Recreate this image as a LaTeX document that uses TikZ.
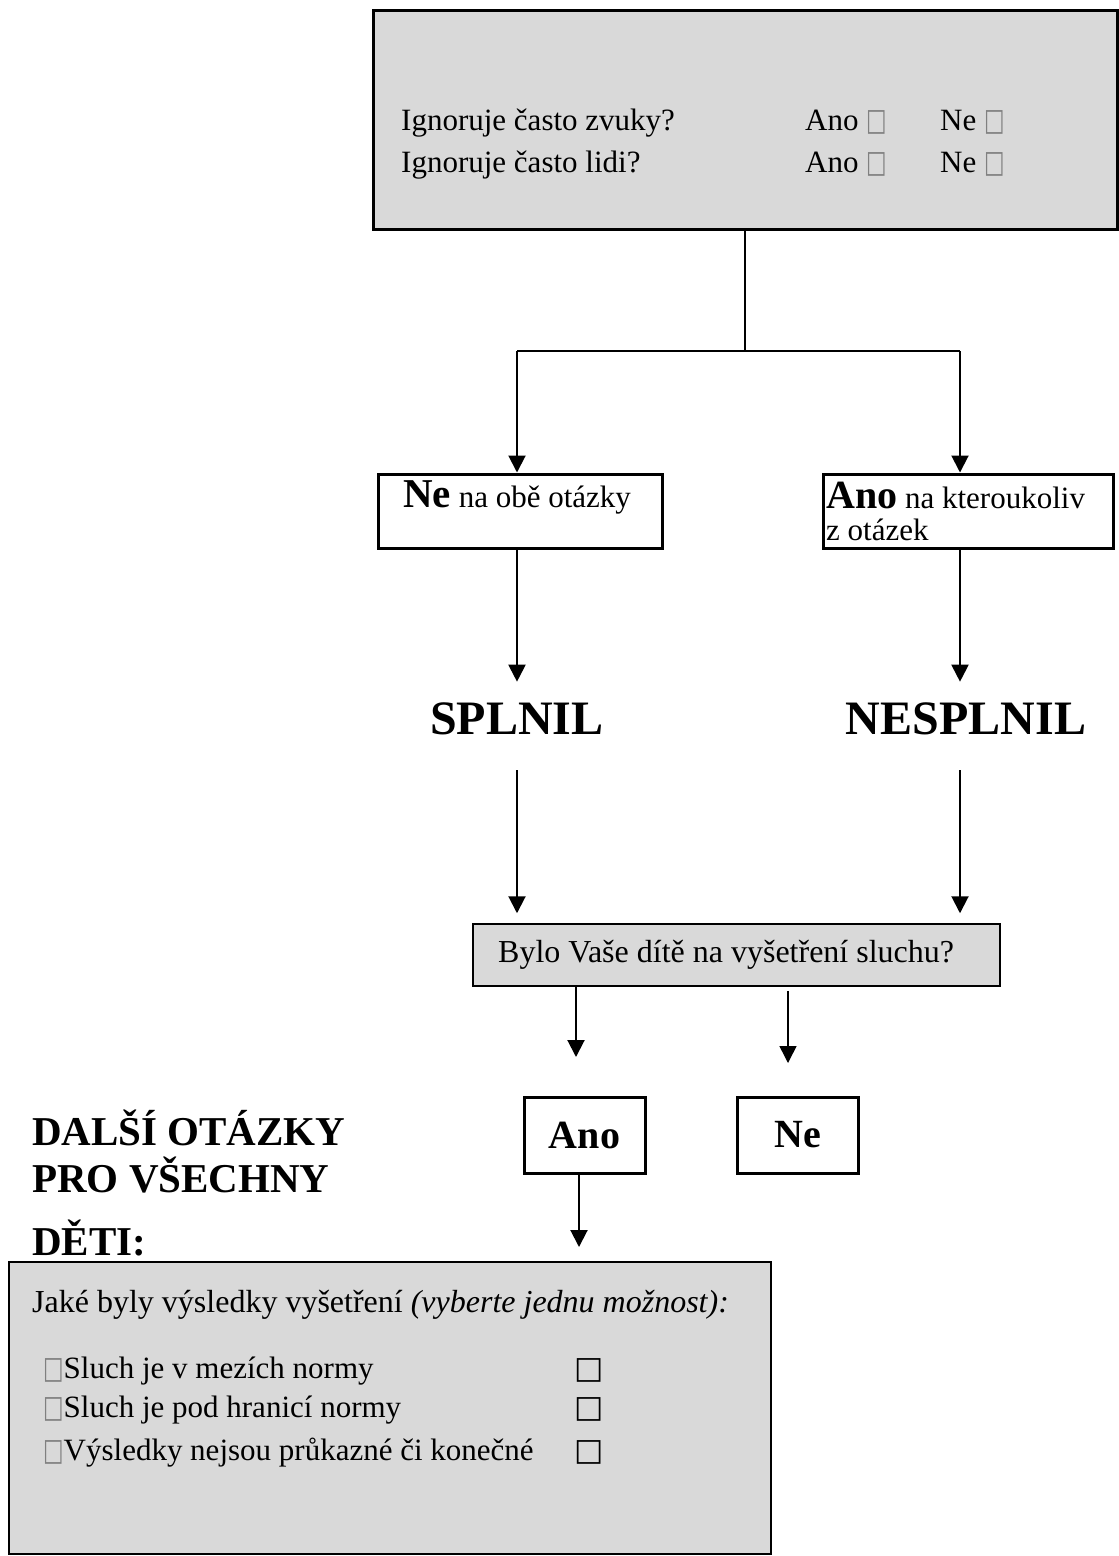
\documentclass[tikz,border=0pt]{standalone}
\usepackage{fontspec}
\setmainfont{Liberation Serif}
\newfontfamily\symfont{DejaVu Sans}
\usetikzlibrary{arrows.meta}
\definecolor{boxgrey}{HTML}{D9D9D9}
\newcommand{\qfont}{\fontsize{31}{36}\selectfont}
\newcommand{\tickbox}{{\symfont\color{gray}\scalebox{0.7}[1]{□}}}
\newcommand{\blackbox}{{\symfont □}}

\begin{document}
\begin{tikzpicture}
[x=1pt, y=-1pt,
  boxDecorate/.style={draw, line width=3pt, inner sep=0pt},
  greyDecorate/.style={boxDecorate, fill=boxgrey},
  lineDecorate/.style={-, line width=2pt},
  arrowDecorate/.style={lineDecorate, -{Triangle[length=17pt,width=17pt]}},
  textDecorate/.style={anchor=base west, inner sep=0pt},
  bigDecorate/.style={inner sep=0pt, font=\fontsize{48}{52}\selectfont\bfseries}]
\useasboundingbox (0,0) rectangle (1119,1556);
%% boxes
\node (quest) at (745,119.5) [greyDecorate, minimum width=744pt, minimum height=219pt] {};
\node (neBox) at (520,511) [boxDecorate, minimum width=284pt, minimum height=74pt] {};
\node (anoBox) at (968,511) [boxDecorate, minimum width=290pt, minimum height=74pt] {};
\node (qBox) at (736.5,955) [greyDecorate, line width=1.5pt, minimum width=527pt, minimum height=62pt] {};
\node (yesBox) at (584.5,1135) [boxDecorate, minimum width=121pt, minimum height=76pt,
  font=\fontsize{40}{44}\selectfont\bfseries] {Ano};
\node (noBox) at (797.5,1135) [boxDecorate, minimum width=121pt, minimum height=76pt,
  font=\fontsize{40}{44}\selectfont\bfseries] {Ne};
\node (resBox) at (390,1408) [greyDecorate, line width=2pt, minimum width=762pt, minimum height=292pt] {};
%% texts
\foreach \i/\y/\question in {
  1/130/Ignoruje často zvuky?, 2/172/Ignoruje často lidi?}
{
  \node (quest\i) at (401,\y) [textDecorate, font=\qfont] {\question};
  \node (questAno\i) at (805,\y) [textDecorate, font=\qfont] {Ano \tickbox};
  \node (questNe\i) at (940,\y) [textDecorate, font=\qfont] {Ne \tickbox};
}
\node (neText) at (403,507) [textDecorate, font=\qfont]
  {{\fontsize{41}{44}\selectfont\bfseries Ne} na obě otázky};
\node (anoText) at (826,508) [textDecorate, font=\qfont]
  {{\fontsize{40}{44}\selectfont\bfseries Ano} na kteroukoliv};
\node (anoText2) at (826,540) [textDecorate, font=\qfont] {z otázek};
\node (splnil) at (517,719) [bigDecorate] {SPLNIL};
\node (nesplnil) at (966,719) [bigDecorate] {NESPLNIL};
\node (qText) at (498,962) [textDecorate, font=\fontsize{32}{36}\selectfont]
  {Bylo Vaše dítě na vyšetření sluchu?};
\foreach \i/\y/\line in {
  1/1145/DALŠÍ OTÁZKY, 2/1192/PRO VŠECHNY, 3/1255/DĚTI:}
{
  \node (title\i) at (32,\y) [textDecorate, font=\fontsize{41}{44}\selectfont\bfseries] {\line};
}
\node (resText) at (32,1312) [textDecorate, font=\fontsize{32}{36}\selectfont]
  {Jaké byly výsledky vyšetření \textit{(vyberte jednu možnost):}};
\foreach \i/\y/\result in {
  1/1378/Sluch je v mezích normy, 2/1417/Sluch je pod hranicí normy,
  3/1460/Výsledky nejsou průkazné či konečné}
{
  \node (res\i) at (43,\y) [textDecorate, font=\qfont] {\tickbox\result};
  \node (resTick\i) at (574,\y) [textDecorate, font=\qfont] {\blackbox};
}
%% connectors
\coordinate (split) at (745,351);
\coordinate (splitNe) at (517,351);
\coordinate (splitAno) at (960,351);
\coordinate (yesTip) at (576,1057);
\coordinate (noTip) at (788,1063);
\coordinate (resTip) at (579,1247);
\draw[lineDecorate, line width=1.5pt] (quest.south) -- (split);
\draw[lineDecorate, line width=1.5pt] (splitNe) -- (splitAno);
\draw[arrowDecorate] (splitNe) -- (splitNe |- neBox.north);
\draw[arrowDecorate] (splitAno) -- (splitAno |- anoBox.north);
\draw[arrowDecorate, shorten >=21pt] (neBox.south -| splitNe) -- (splnil.north);
\draw[arrowDecorate, shorten >=21pt] (anoBox.south -| splitAno) -- (splitAno |- nesplnil.north);
\draw[arrowDecorate, shorten <=35pt, shorten >=10pt] (splnil.south) -- (splitNe |- qBox.north);
\draw[arrowDecorate, shorten <=35pt, shorten >=10pt] (splitAno |- nesplnil.south) -- (splitAno |- qBox.north);
\draw[arrowDecorate] (qBox.south -| yesTip) -- (yesTip);
\draw[arrowDecorate, line width=1.5pt, shorten <=4pt] (qBox.south -| noTip) -- (noTip);
\draw[arrowDecorate] (yesBox.south -| resTip) -- (resTip);
\end{tikzpicture}
\end{document}
